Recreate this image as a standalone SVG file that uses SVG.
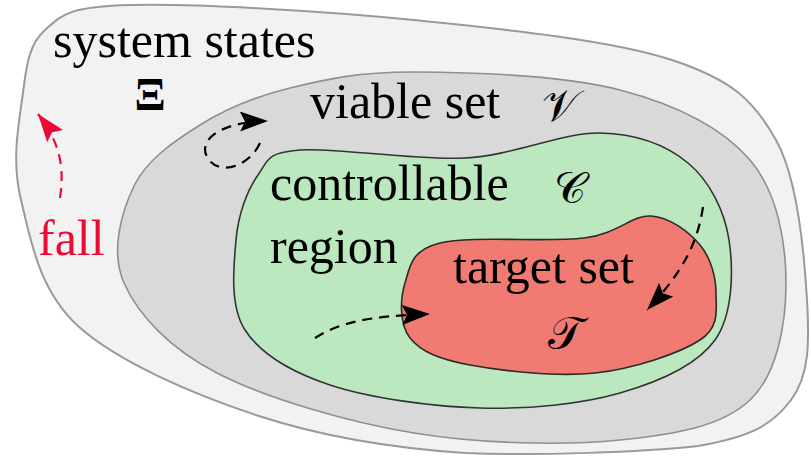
<svg xmlns="http://www.w3.org/2000/svg" width="811" height="460" viewBox="0 0 811 460">
<style>
.dash{fill:none;stroke:#000;stroke-width:2.2;stroke-dasharray:10 7}
</style>
<defs>
<marker id="ah" viewBox="0 0 28 20" refX="28" refY="10" markerWidth="28" markerHeight="20" markerUnits="userSpaceOnUse" orient="auto">
<path d="M0,0 L28,10 L0,20 L5,10 Z" fill="#000"/>
</marker>
<marker id="ahr" viewBox="0 0 28 20" refX="28" refY="10" markerWidth="28" markerHeight="20" markerUnits="userSpaceOnUse" orient="auto">
<path d="M0,0 L28,10 L0,20 L5,10 Z" fill="#ea0a36"/>
</marker>
</defs>
<g id="system-states">
<path d="M21,200 C11.7,162.3 18,128.3 22,100 C26,71.7 27,45.8 45,30 C63,14.2 68.5,6.7 130,5 C191.5,3.3 323.7,10.8 414,20 C504.3,29.2 611.7,40 672,60 C732.3,80 753.5,100 776,140 C798.5,180 804.5,256.7 807,300 C809.5,343.3 809.2,375.7 791,400 C772.8,424.3 752.3,436.7 698,446 C643,452 538,456 465,453 C391.8,448 323.5,437.2 259,416 C194.5,394.8 117.7,362 78,326 C38.3,290 30.3,237.7 21,200 Z" fill="#f2f2f2" stroke="#9a9a9a" stroke-width="2"/>
<text x="53" y="57" font-family="Liberation Serif, serif" font-size="50">system states</text>
<text x="150" y="110" text-anchor="middle" font-family="Liberation Serif, serif" font-size="46" font-weight="bold">Ξ</text>
</g>
<g id="viable-set">
<path d="M414,72 C469,72.3 564,75.3 620,90 C676,104.7 722.3,127.8 750,160 C777.7,192.2 786,243 786,283 C786,323 777.7,373.8 750,400 C722.3,426.2 676,434.5 620,440 C564,445.5 481.2,444.2 414,433 C346.8,421.8 265.3,398 217,373 C168.7,348 137.8,314.2 124,283 C110.2,251.8 121.3,212.3 134,186 C146.7,159.7 174,141.3 200,125 C226,108.7 254.3,96.8 290,88 C325.7,79.2 359,71.7 414,72 Z" fill="#d9d9d9" stroke="#8f8f8f" stroke-width="1.6"/>
<text x="310" y="118" font-family="Liberation Serif, serif" font-size="50">viable set</text>
<text x="560" y="121" text-anchor="middle" font-family="DejaVu Serif, serif" font-size="44">𝒱</text>
</g>
<g id="controllable-region">
<path d="M300,150 C334.5,147.2 415,160.8 465,158 C515,155.2 562.8,132.2 600,133 C637.2,133.8 666.5,145.2 688,163 C709.5,180.8 724.5,210.5 729,240 C733.5,269.5 733.2,314.5 715,340 C696.8,365.5 659.2,381.7 620,393 C580.8,404.3 528.3,409.3 480,408 C431.7,406.7 369.2,398 330,385 C290.8,372 260.7,354.2 245,330 C229.3,305.8 233.8,265.8 236,240 C238.2,214.2 247.3,190 258,175 C268.7,160 265.5,152.8 300,150 Z" fill="#bbe8be" stroke="#333" stroke-width="1.6"/>
<text x="270" y="200" font-family="Liberation Serif, serif" font-size="50">controllable</text>
<text x="270" y="263" font-family="Liberation Serif, serif" font-size="50">region</text>
<text x="570" y="203" text-anchor="middle" font-family="DejaVu Serif, serif" font-size="44">𝒞</text>
</g>
<g id="target-set">
<path d="M440,243 C469.8,235.5 548.8,242.5 584,238 C619.2,233.5 631.7,214.8 651,216 C670.3,217.2 689.2,232.2 700,245 C710.8,257.8 716,277.2 716,293 C716,308.8 720.2,326.7 700,340 C679.8,353.3 633.3,368.8 595,373 C556.7,377.2 500.8,370.8 470,365 C439.2,359.2 420.8,351.7 410,338 C399.2,324.3 400,298.8 405,283 C410,267.2 410.2,250.5 440,243 Z" fill="#f17b73" stroke="#2a2a2a" stroke-width="1.6"/>
<text x="453" y="283" font-family="Liberation Serif, serif" font-size="50">target set</text>
<text x="565" y="349" text-anchor="middle" font-family="DejaVu Serif, serif" font-size="46">𝒯</text>
</g>
<g id="fall-label">
<text x="38" y="255" font-family="Liberation Serif, serif" font-size="50" fill="#ea0a36">fall</text>
</g>
<g id="connectors">
<path class="dash" d="M60,198 C64,170 62,145 38,114" style="stroke:#ea0a36" marker-end="url(#ahr)"/>
<path class="dash" d="M260,143 C250,165 222,176 209,160 C196,143 215,122 268,121" marker-end="url(#ah)"/>
<path class="dash" d="M703,207 C698,240 685,270 647,310" marker-end="url(#ah)"/>
<path class="dash" d="M315,338 C340,322 370,316 430,314" marker-end="url(#ah)"/>
</g>
</svg>
